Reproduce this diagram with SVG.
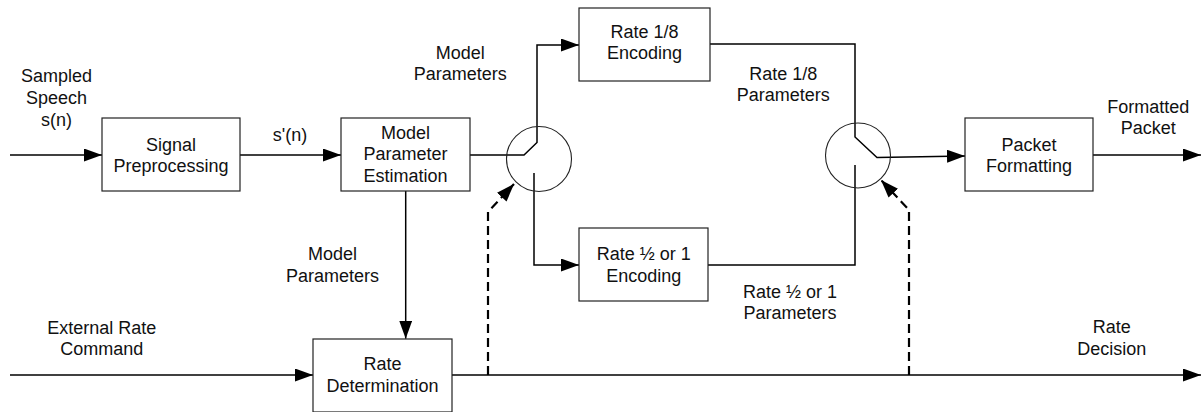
<svg xmlns="http://www.w3.org/2000/svg" width="1202" height="412" viewBox="0 0 1202 412">
<defs>
<marker id="arr" markerUnits="userSpaceOnUse" markerWidth="20" markerHeight="14" refX="18" refY="6.5" orient="auto">
<path d="M0,0 L18,6.5 L0,13 z" fill="#000"/>
</marker>
<style>
.box{fill:#fff;stroke:#222;stroke-width:1.2}
.ln{fill:none;stroke:#000;stroke-width:1.5}
.dash{fill:none;stroke:#000;stroke-width:2.2;stroke-dasharray:9,5}
.sw{fill:none;stroke:#222;stroke-width:1.1}
text{font-family:"Liberation Sans",Arial,sans-serif;font-size:18px;fill:#111;text-anchor:middle}
</style>
</defs>
<rect width="1202" height="412" fill="#fff"/>
<g id="connectors">
<path class="ln" d="M10,155 L102,155" marker-end="url(#arr)"/>
<path class="ln" d="M240,155 L341,155" marker-end="url(#arr)"/>
<path class="ln" d="M470,155 L524,155 L537,142.5 L537,45 L579,45" marker-end="url(#arr)"/>
<path class="ln" d="M534,173 L534,265 L579,265" marker-end="url(#arr)"/>
<path class="ln" d="M710,44 L855,44 L855,137 L877,157.5 L965,156" marker-end="url(#arr)"/>
<path class="ln" d="M708,265 L855,265 L855,165"/>
<path class="ln" d="M1093,155 L1201,155" marker-end="url(#arr)"/>
<path class="ln" d="M405.7,191 L405.7,338.7" marker-end="url(#arr)"/>
<path class="ln" d="M10,375 L313,375" marker-end="url(#arr)"/>
<path class="ln" d="M452,375 L1201,375" marker-end="url(#arr)"/>
<path class="dash" d="M488,375 L488,212 L514,184" marker-end="url(#arr)"/>
<path class="dash" d="M909,375 L909,210 L881,180" marker-end="url(#arr)"/>
</g>
<g id="switch1"><circle class="sw" cx="539" cy="159" r="32.5"/></g>
<g id="switch2"><circle class="sw" cx="858" cy="155.5" r="32.5"/></g>
<g id="signal-preprocessing">
<rect class="box" x="102" y="118" width="138" height="73"/>
<text x="171" y="150.5">Signal</text>
<text x="171" y="171.5">Preprocessing</text>
</g>
<g id="model-parameter-estimation">
<rect class="box" x="341" y="118" width="129" height="73"/>
<text x="405.5" y="138.5">Model</text>
<text x="405.5" y="160.3">Parameter</text>
<text x="405.5" y="182">Estimation</text>
</g>
<g id="rate-18-encoding">
<rect class="box" x="579" y="8" width="131" height="73"/>
<text x="644.5" y="37.5">Rate 1/8</text>
<text x="644.5" y="59">Encoding</text>
</g>
<g id="rate-half-encoding">
<rect class="box" x="579" y="228" width="129" height="73"/>
<text x="643.8" y="260">Rate ½ or 1</text>
<text x="643.8" y="281.5">Encoding</text>
</g>
<g id="packet-formatting">
<rect class="box" x="965" y="118" width="128" height="73"/>
<text x="1029" y="150.5">Packet</text>
<text x="1029" y="171.5">Formatting</text>
</g>
<g id="rate-determination">
<rect class="box" x="313" y="339" width="139" height="73"/>
<text x="382.5" y="369.5">Rate</text>
<text x="382.5" y="391.5">Determination</text>
</g>
<g id="labels">
<text x="56.5" y="82">Sampled</text>
<text x="56.5" y="104">Speech</text>
<text x="56.5" y="125.5">s(n)</text>
<text x="290" y="141">s'(n)</text>
<text x="460.3" y="58.5">Model</text>
<text x="460.3" y="79.5">Parameters</text>
<text x="783.3" y="79.5">Rate 1/8</text>
<text x="783.3" y="100.5">Parameters</text>
<text x="332.5" y="260">Model</text>
<text x="332.5" y="281.5">Parameters</text>
<text x="790" y="297.5">Rate ½ or 1</text>
<text x="790" y="319">Parameters</text>
<text x="101.7" y="333.5">External Rate</text>
<text x="101.7" y="355">Command</text>
<text x="1111.7" y="333">Rate</text>
<text x="1111.7" y="354.5">Decision</text>
<text x="1148.3" y="113.3">Formatted</text>
<text x="1148.3" y="134.3">Packet</text>
</g>
</svg>
